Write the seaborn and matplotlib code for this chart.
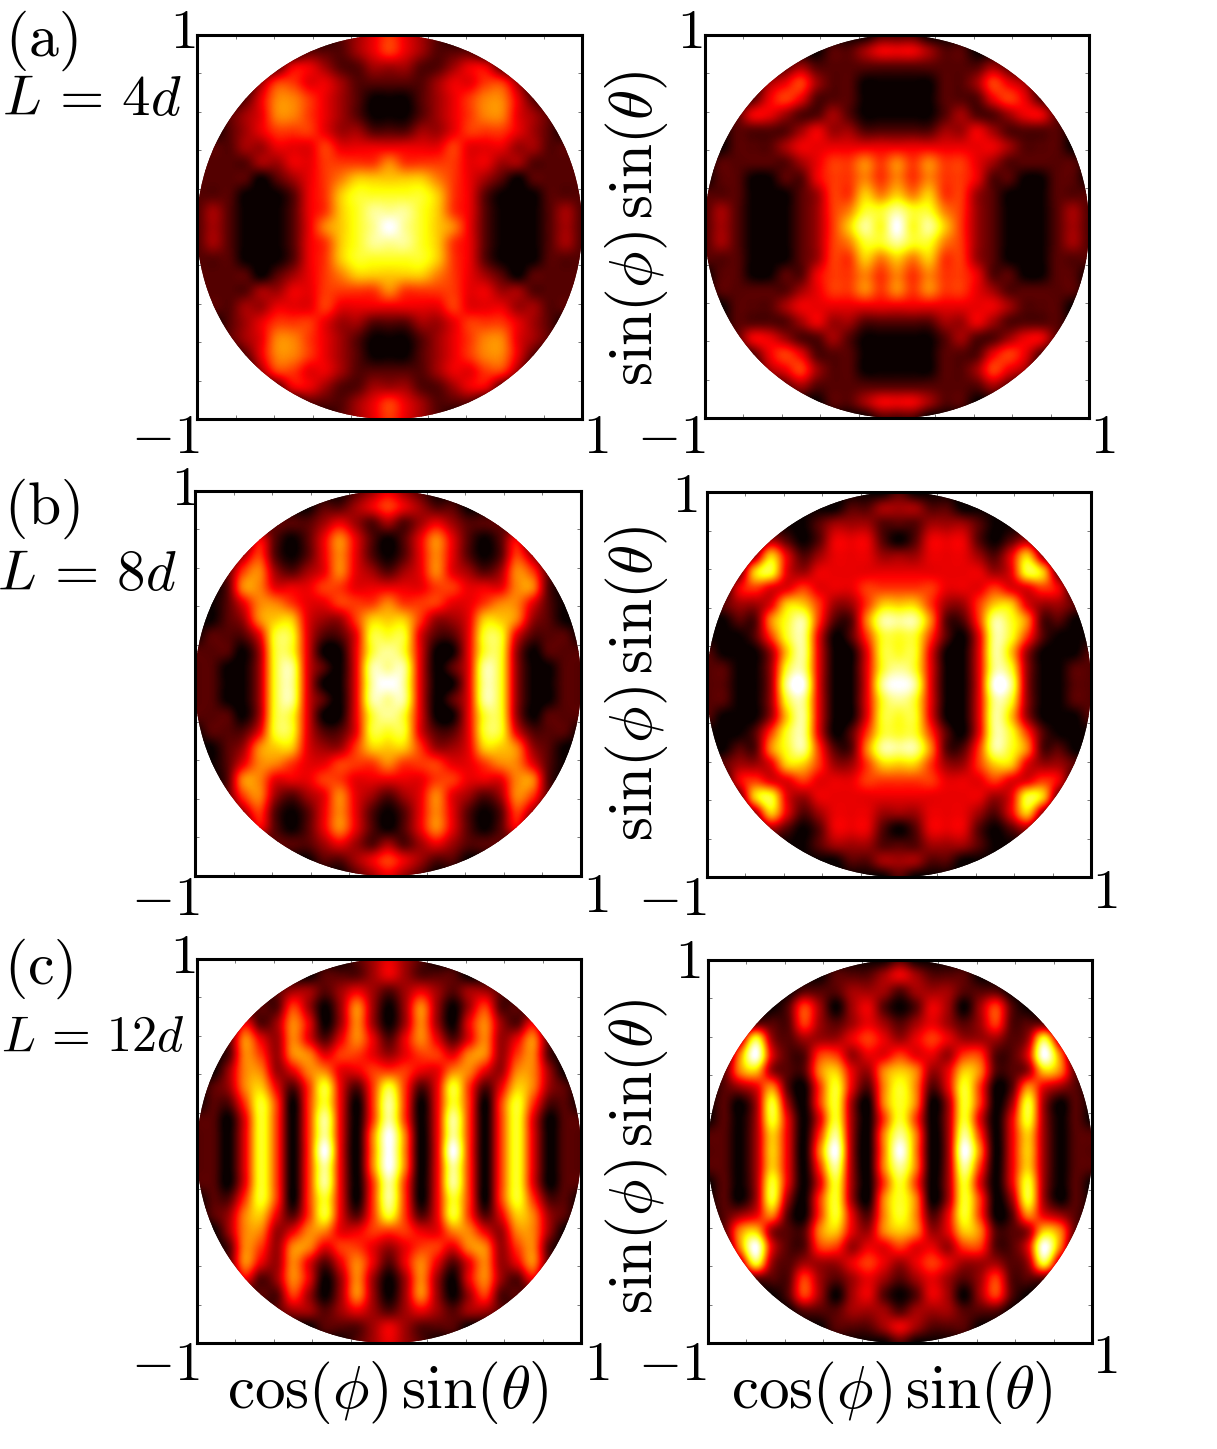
import numpy as np
import matplotlib
matplotlib.use('Agg')
import matplotlib.pyplot as plt
from matplotlib.patches import Circle
import seaborn as sns

a_left = """
0000000001234321000000000
0000000111234321110000000
0000013321122211233100000
0000244332111112334420000
0001355432100012345531000
0012355432100012345532100
0012344432211122344432100
0112233343333333433322110
1111223344445444433221111
1111012345666665432101111
1110001346777776431000111
1210001346788876431000121
1210001356789876531000121
1210001346788876431000121
1110001346777776431000111
1111012345666665432101111
1111223344445444433221111
0112233343333333433322110
0012344432211122344432100
0012355432100012345532100
0001355432100012345531000
0000244332111112334420000
0000013321122211233100000
0000000111234321110000000
0000000001234321000000000
""".split()

a_right = """
0000000000011100000000000
0000000011233321100000000
0000012111111111112100000
0000234211000001124320000
0001343111000001113431000
0013321121000001211233100
0011112322111112232111100
0011123333333333333211100
0111112344545454432111110
0110011344545454431100110
1110001244656564421000111
1210001245778775421000121
1210001246879786421000121
1210001245778775421000121
1110001244656564421000111
0110011344545454431100110
0111112344545454432111110
0011123333333333333211100
0011112322111112232111100
0013321121000001211233100
0001343111000001113431000
0000234211000001124320000
0000012111111111112100000
0000000011233321100000000
0000000000011100000000000
""".split()

b_left = """
0000000000123210000000000
0000000011234321100000000
0000011123212123211100000
0000310135310135310130000
0002410135310135310142000
0014521235321235321254100
0015533344333334433355100
0013554334445444334553100
0012566322466642236652100
0111377311377731137731110
1110277300378730037720111
1100278310388830138720011
1100278300389830038720011
1100278310388830138720011
1110277300378730037720111
0111377311377731137731110
0012566322466642236652100
0013554334445444334553100
0015533344333334433355100
0014521235321235321254100
0002410135310135310142000
0000310135310135310130000
0000011123212123211100000
0000000011234321100000000
0000000000123210000000000
""".split()

b_right = """
0000000000001000000000000
0000000001122211000000000
0000000122211122210000000
0000210133310133310120000
0002631233322233321362000
0016732333333333332376100
0034334333444443334334300
0122366422466642246632210
0011578411588851148751100
0001478301477741038741000
1000268300377730038620001
1100278300378730038720011
1100289300389830039820011
1100278300378730038720011
1000268300377730038620001
0001478301477741038741000
0011578411588851148751100
0122366422466642246632210
0034334333444443334334300
0016732333333333332376100
0002631233322233321362000
0000210133310133310120000
0000000122211122210000000
0000000001122211000000000
0000000000001000000000000
""".split()

c_left = """
0000000000123210000000000
0000000011123211100000000
0000012212321232122100000
0000114202520252024110000
0003125302520252035213000
0015325313531353135235100
0015425534432344355245100
0025523553344433553255200
0125631473147413741365210
0114740473048403740474110
1103740483048403840473011
1103740483059503840473011
1103740493059503940473011
1103740483059503840473011
1103740483048403840473011
0114740473048403740474110
0125631473147413741365210
0025523553344433553255200
0015425534432344355245100
0015325313531353135235100
0003125302520252035213000
0000114202520252024110000
0000012212321232122100000
0000000011123211100000000
0000000000123210000000000
""".split()

c_right = """
0000000000001000000000000
0000000011123211100000000
0000001112221222111000000
0000014202310132024100000
0001114212321232124111000
0027212223432343222127200
0059311442334332441139500
0156211563256523651126510
0123510473157513740153210
0102720472057502740272010
0102730372047402730372010
1102630482058502840362011
1102630592059502950362011
1102630482058502840362011
0102730372047402730372010
0102720472057502740272010
0123510473157513740153210
0156211563256523651126510
0059311442334332441139500
0027212223432343222127200
0001114212321232124111000
0000014202310132024100000
0000001112221222111000000
0000000011123211100000000
0000000000001000000000000
""".split()

tick_vals = [-0.8, -0.6, -0.4, -0.2, 0.2, 0.4, 0.6, 0.8]
panel_labels = ['(a)', '(b)', '(c)']
length_labels = ['L\\,=\\,4d', 'L\\,=\\,8d', 'L\\,=\\,12d']

W, H = 1217, 1449
sns.set_style('white')
plt.rcParams['mathtext.fontset'] = 'cm'
plt.rcParams['text.color'] = 'black'

fig = plt.figure(figsize=(W / 100, H / 100), dpi=100)


def put(x, y, s, size=40, rotation=0):
    fig.text(x / W, 1 - y / H, '$' + s + '$', fontsize=size, rotation=rotation,
             ha='center', va='center')


def disc(rows, left, top, right, bottom):
    ax = fig.add_axes([left / W, 1 - bottom / H, (right - left) / W, (bottom - top) / H])
    grid = np.array([[int(c) for c in r] for r in rows])
    sns.heatmap(grid, cmap='hot', vmin=0, vmax=9, cbar=False, ax=ax, shading='gouraud',
                xticklabels=False, yticklabels=False)
    mesh = ax.collections[0]
    n = grid.shape[0] - 1
    # smooth the colours the way the original image is shaded
    im = ax.imshow(grid, cmap=mesh.get_cmap(), norm=mesh.norm, interpolation='catrom',
                   interpolation_stage='data', aspect='auto', zorder=2,
                   extent=(-0.5, n + 0.5, n + 0.5, -0.5))
    ax.set_xlim(0, n)
    ax.set_ylim(n, 0)
    mesh.set_clip_path(Circle((n / 2, n / 2), n / 2, transform=ax.transData))
    im.set_clip_path(Circle((n / 2, n / 2), n / 2, transform=ax.transData))
    ticks = [(v + 1) * n / 2 for v in tick_vals]
    ax.set_xticks(ticks)
    ax.set_yticks(ticks)
    ax.set_xticklabels([])
    ax.set_yticklabels([])
    ax.tick_params(direction='in', length=3, width=0.5, color='#444444',
                   top=True, right=True, bottom=True, left=True)
    for sp in ax.spines.values():
        sp.set_visible(True)
        sp.set_linewidth(2.2)
        sp.set_color('black')
    return ax


disc(a_left, 197, 35, 582, 419)
disc(a_right, 705, 35, 1089, 418)
disc(b_left, 195, 491, 581, 876)
disc(b_right, 707, 492, 1091, 877)
disc(c_left, 197, 959, 581, 1343)
disc(c_right, 708, 960, 1092, 1343)

# tick numbers around each disc
for x, y, s in [(183, 33, '1'), (165, 438, '-1'), (596, 438, '1'),
                (690, 33, '1'), (671, 438, '-1'), (1103, 438, '1'),
                (184, 490, '1'), (165, 900, '-1'), (596, 897, '1'),
                (685, 497, '1'), (672, 900, '-1'), (1105, 893, '1'),
                (183, 958, '1'), (165, 1365, '-1'), (597, 1365, '1'),
                (688, 963, '1'), (672, 1365, '-1'), (1105, 1358, '1')]:
    put(x, y, s)

for (x, y), s in zip([(41, 41), (42, 509), (39, 969)], panel_labels):
    put(x, y, '\\mathrm{' + s + '}', size=43)
put(92, 100, length_labels[0], size=41)
put(87, 575, length_labels[1], size=41)
put(92, 1037, length_labels[2], size=36)

for y in [229, 684, 1157]:
    put(637, y, r'\sin(\phi)\,\sin(\theta)', size=44, rotation=90)
for x in [388, 892]:
    put(x, 1393, r'\cos(\phi)\,\sin(\theta)', size=44)

fig.savefig('out.png', dpi=100)
